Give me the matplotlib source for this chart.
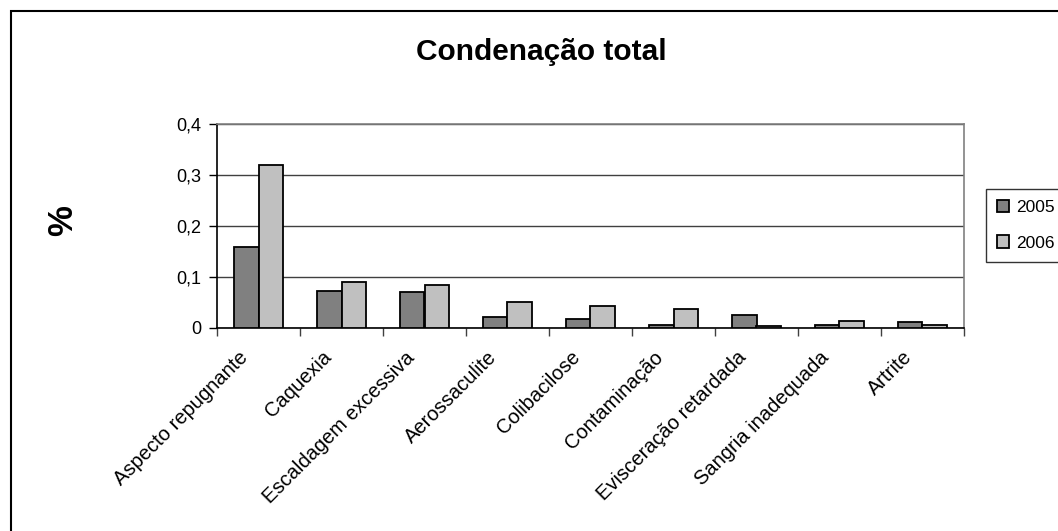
import matplotlib
matplotlib.use("Agg")
import matplotlib.pyplot as plt
import numpy as np
from matplotlib.patches import Rectangle
from matplotlib.ticker import FuncFormatter
from matplotlib.transforms import ScaledTranslation

plt.rcParams["font.family"] = ["Liberation Sans", "DejaVu Sans"]

# data
categories = [
    "Aspecto repugnante", "Caquexia", "Escaldagem excessiva", "Aerossaculite",
    "Colibacilose", "Contaminação", "Evisceração retardada",
    "Sangria inadequada", "Artrite",
]
years = ["2005", "2006"]
vals_2005 = [0.158, 0.073, 0.070, 0.022, 0.018, 0.0065, 0.026, 0.0065, 0.011]
vals_2006 = [0.320, 0.091, 0.085, 0.051, 0.044, 0.037, 0.003, 0.014, 0.0065]
y_ticks = [0, 0.1, 0.2, 0.3, 0.4]

W, H = 1058, 531
fig = plt.figure(figsize=(W / 100, H / 100), dpi=100)
left, right, top, bottom = 217, 964, 124, 328
ax = fig.add_axes([left / W, 1 - bottom / H, (right - left) / W, (bottom - top) / H])

x = np.arange(len(categories))
bw = 0.29
colors = ["#808080", "#C0C0C0"]
for i, (vals, c, lab) in enumerate(zip([vals_2005, vals_2006], colors, years)):
    ax.bar(x + (i - 0.5) * bw, vals, bw, color=c, edgecolor="black",
           linewidth=1.3, label=lab, zorder=3)

ax.set_xlim(-0.5, len(categories) - 0.5)
ax.set_ylim(0, 0.4)
ax.set_yticks(y_ticks)
ax.yaxis.set_major_formatter(FuncFormatter(
    lambda v, p: "0" if v == 0 else f"{v:.1f}".replace(".", ",")))
ax.grid(axis="y", color="#404040", linewidth=1.0, zorder=0)

# category boundaries as ticks, labels at centres
ax.set_xticks(np.arange(len(categories) + 1) - 0.5)
ax.set_xticklabels([])
ax.set_xticks(x, minor=True)
ax.set_xticklabels(categories, minor=True, rotation=45, ha="right",
                   va="top", rotation_mode="anchor", fontsize=14.5)
ax.tick_params(axis="x", which="minor", length=0, pad=2)
ax.tick_params(axis="x", which="major", length=6, width=1, color="#404040",
               direction="out")
ax.tick_params(axis="y", length=6, width=1, labelsize=13, pad=5)
shift = ScaledTranslation(-20 / 100, -17 / 100, fig.dpi_scale_trans)
for lab in ax.get_xticklabels(minor=True):
    lab.set_transform(lab.get_transform() + shift)

for side in ("top", "right"):
    ax.spines[side].set_color("#808080")
    ax.spines[side].set_linewidth(1.2)
for side in ("left", "bottom"):
    ax.spines[side].set_color("black")
    ax.spines[side].set_linewidth(1.2)

fig.text(541 / W, 1 - 52 / H, "Condenação total", ha="center", va="center",
         fontsize=21.5, fontweight="bold")
fig.text(63 / W, 1 - 221 / H, "%", ha="center", va="center", rotation=90,
         fontsize=25, fontweight="bold")

leg = fig.legend(loc="upper left", bbox_to_anchor=(985.5 / W, 1 - 189 / H),
                 frameon=True, fancybox=False, fontsize=12.5,
                 handlelength=0.7, handleheight=0.7, handletextpad=0.4,
                 labelspacing=1.15, borderpad=0.65, borderaxespad=0)
leg.get_frame().set_edgecolor("black")
leg.get_frame().set_linewidth(1.0)

# outer chart frame (right and bottom edges fall outside the image)
fig.add_artist(Rectangle((11 / W, -0.1), 1.2, 1 - 11 / H + 0.1,
                         transform=fig.transFigure, fill=False,
                         edgecolor="black", linewidth=1.5))

fig.savefig("out.png", dpi=100)
